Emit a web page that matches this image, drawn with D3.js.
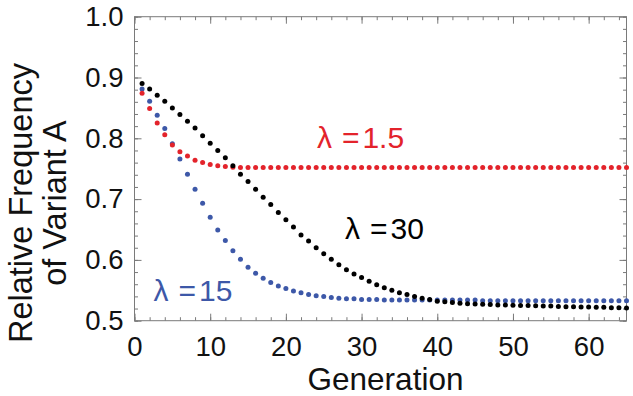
<!DOCTYPE html>
<html>
<head>
<meta charset="utf-8">
<script src="https://cdn.jsdelivr.net/npm/d3@7"></script>
<style>
  body { margin: 0; background: #fff; }
  text { font-family: "Liberation Sans", Arial, sans-serif; }
</style>
</head>
<body>
<div id="chart"></div>
<script>
// generations 1..65
var generations = d3.range(1, 66);

// lambda = 30 (black)
var lambda30 = [0.890, 0.881, 0.871, 0.861, 0.850, 0.839, 0.828, 0.817, 0.804, 0.792,
  0.780, 0.768, 0.755, 0.741, 0.729, 0.716, 0.703, 0.691, 0.678, 0.666,
  0.654, 0.641, 0.631, 0.620, 0.610, 0.601, 0.592, 0.584, 0.577, 0.571,
  0.565, 0.559, 0.554, 0.550, 0.546, 0.543, 0.540, 0.537, 0.535, 0.532,
  0.531, 0.530, 0.5285, 0.528, 0.5275, 0.527, 0.5265, 0.526, 0.526, 0.5255,
  0.525, 0.525, 0.5245, 0.524, 0.524, 0.5235, 0.523, 0.523, 0.5225, 0.5225,
  0.522, 0.522, 0.5215, 0.5215, 0.521];

// lambda = 1.5 (red)
var lambda1_5 = [0.874, 0.849, 0.825, 0.806, 0.789, 0.778, 0.771, 0.764, 0.760, 0.757,
  0.755, 0.7535, 0.7525, 0.752, 0.752, 0.752, 0.752, 0.752, 0.752, 0.752,
  0.752, 0.752, 0.752, 0.752, 0.752, 0.752, 0.752, 0.752, 0.752, 0.752,
  0.752, 0.752, 0.752, 0.752, 0.752, 0.752, 0.752, 0.752, 0.752, 0.752,
  0.752, 0.752, 0.752, 0.752, 0.752, 0.752, 0.752, 0.752, 0.752, 0.752,
  0.752, 0.752, 0.752, 0.752, 0.752, 0.752, 0.752, 0.752, 0.752, 0.752,
  0.752, 0.752, 0.752, 0.752, 0.752];

// lambda = 15 (blue)
var lambda15 = [0.881, 0.861, 0.838, 0.816, 0.791, 0.766, 0.741, 0.716, 0.693, 0.670,
  0.649, 0.632, 0.615, 0.601, 0.588, 0.578, 0.570, 0.563, 0.557, 0.553,
  0.549, 0.546, 0.543, 0.541, 0.540, 0.538, 0.537, 0.536, 0.536, 0.535,
  0.535, 0.535, 0.534, 0.534, 0.534, 0.534, 0.534, 0.534, 0.534, 0.534,
  0.534, 0.534, 0.534, 0.534, 0.534, 0.533, 0.533, 0.533, 0.533, 0.533,
  0.533, 0.533, 0.533, 0.533, 0.533, 0.533, 0.533, 0.533, 0.533, 0.533,
  0.533, 0.533, 0.533, 0.533, 0.533];

var xTicks = [0, 10, 20, 30, 40, 50, 60];
var yTicks = [0.5, 0.6, 0.7, 0.8, 0.9, 1.0];
var xMinor = d3.range(0, 66, 2);
var yMinor = d3.range(0.5, 1.001, 0.02);

var margin = { top: 16.7, right: 6.5, bottom: 75.3, left: 134.5 };
var width = 633 - margin.left - margin.right;
var height = 396 - margin.top - margin.bottom;

var svg = d3.select("#chart")
  .append("svg")
  .attr("width", 633)
  .attr("height", 396)
  .append("g")
  .attr("transform", "translate(" + margin.left + "," + margin.top + ")");

var x = d3.scaleLinear().domain([0, 65]).range([0, width]);
var y = d3.scaleLinear().domain([0.5, 1.0]).range([height, 0]);

var tickColor = "#7a7a7a";

function styleAxis(g) {
  g.select(".domain").remove();
  g.selectAll(".tick line").attr("stroke", tickColor);
  g.selectAll(".tick text")
    .attr("font-size", "27.5px")
    .attr("fill", "#111");
}

// minor ticks (all four sides)
svg.append("g").attr("transform", "translate(0," + height + ")")
  .call(d3.axisBottom(x).tickValues(xMinor).tickSize(-3.5).tickFormat(""))
  .call(styleAxis);
svg.append("g")
  .call(d3.axisTop(x).tickValues(xMinor).tickSize(-3.5).tickFormat(""))
  .call(styleAxis);
svg.append("g")
  .call(d3.axisLeft(y).tickValues(yMinor).tickSize(-3.5).tickFormat(""))
  .call(styleAxis);
svg.append("g").attr("transform", "translate(" + width + ",0)")
  .call(d3.axisRight(y).tickValues(yMinor).tickSize(-3.5).tickFormat(""))
  .call(styleAxis);

// major ticks
svg.append("g").attr("transform", "translate(0," + height + ")")
  .call(d3.axisBottom(x).tickValues(xTicks).tickSize(-7).tickPadding(16).tickFormat(d3.format("d")))
  .call(styleAxis);
svg.append("g")
  .call(d3.axisLeft(y).tickValues(yTicks).tickSize(-7).tickPadding(11).tickFormat(d3.format(".1f")))
  .call(styleAxis);
svg.append("g")
  .call(d3.axisTop(x).tickValues(xTicks).tickSize(-7).tickFormat(""))
  .call(styleAxis);
svg.append("g").attr("transform", "translate(" + width + ",0)")
  .call(d3.axisRight(y).tickValues(yTicks).tickSize(-7).tickFormat(""))
  .call(styleAxis);

// frame
svg.append("rect")
  .attr("width", width)
  .attr("height", height)
  .attr("fill", "none")
  .attr("stroke", tickColor)
  .attr("stroke-width", 1);

var series = [
  { values: lambda15, color: "#3d58a8" },
  { values: lambda1_5, color: "#e3232b" },
  { values: lambda30, color: "#000" }
];

series.forEach(function(s) {
  svg.append("g")
    .selectAll("circle")
    .data(generations)
    .enter().append("circle")
    .attr("cx", function(d) { return x(d); })
    .attr("cy", function(d, i) { return y(s.values[i]); })
    .attr("r", 2.5)
    .attr("fill", s.color);
});

// series labels
var labels = [
  { num: "1.5", gen: 24.1, val: 0.7836, color: "#e3232b" },
  { num: "30", gen: 27.8, val: 0.634, color: "#000" },
  { num: "15", gen: 2.5, val: 0.533, color: "#3d58a8" }
];

var lab = svg.selectAll(".lab")
  .data(labels)
  .enter().append("text")
  .attr("class", "lab")
  .attr("x", function(d) { return x(d.gen); })
  .attr("y", function(d) { return y(d.val); })
  .attr("font-size", "30px")
  .attr("fill", function(d) { return d.color; });
lab.append("tspan").text("λ");
lab.append("tspan").attr("dx", 10).text("=");
lab.append("tspan").attr("dx", 3).text(function(d) { return d.num; });

// axis titles
svg.append("text")
  .attr("x", width / 2 + 5)
  .attr("y", height + 69)
  .attr("text-anchor", "middle")
  .attr("font-size", "31.5px")
  .attr("fill", "#111")
  .text("Generation");

var yt = svg.append("text")
  .attr("transform", "translate(" + (32 - margin.left) + "," + (203 - margin.top) + ")rotate(-90)")
  .attr("text-anchor", "middle")
  .attr("font-size", "32.5px")
  .attr("fill", "#111");
yt.append("tspan").attr("x", 0).attr("dy", 0).text("Relative Frequency");
yt.append("tspan").attr("x", 0).attr("dy", 34).text("of Variant A");
</script>
</body>
</html>
